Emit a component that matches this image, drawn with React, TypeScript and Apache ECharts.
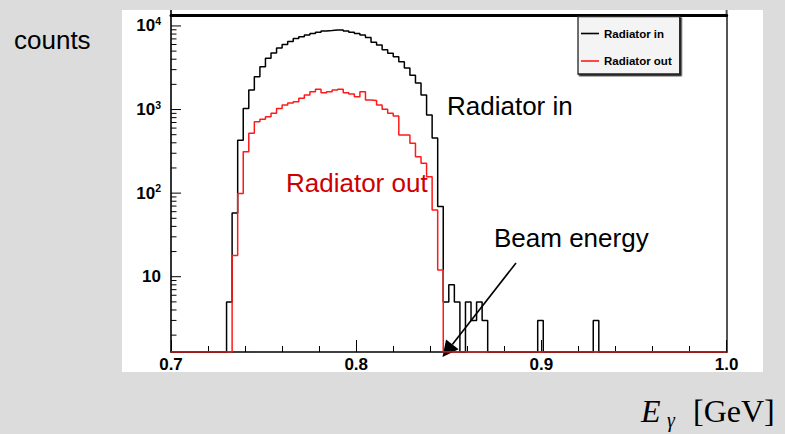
import React, { useEffect, useRef } from 'react';
import * as echarts from 'echarts';

// ---- axis ranges ----
const X_MIN = 0.7;
const X_MAX = 1.0;
const X_TICK_INTERVAL = 0.1;
const BIN_WIDTH = 0.003;
const Y_MIN = 1.257;
const Y_MAX = 13520;
const Y_DECADES = [1, 10, 100, 1000];
const Y_MINOR_MULTIPLIERS = [2, 3, 4, 5, 6, 7, 8, 9];

// ---- histogram contents: 100 bins of 0.003 from 0.7 to 1.0 ----
const radiatorIn = [
  0, 0, 0, 0, 0, 0, 0, 0, 0, 0,
  5, 58, 430, 1030, 1710, 2470, 3250, 4100, 4750, 5440,
  5990, 6500, 7060, 7430, 7780, 8100, 8400, 8690, 8800, 8930,
  8930, 8700, 8400, 8100, 7780, 7280, 6400, 5900, 5200, 4700,
  4290, 3730, 3140, 2570, 2080, 1490, 860, 455, 69, 5,
  8, 5, 0, 5, 3, 5, 3, 0, 0, 0,
  0, 0, 0, 0, 0, 0, 3, 0, 0, 0,
  0, 0, 0, 0, 0, 0, 3, 0, 0, 0,
  0, 0, 0, 0, 0, 0, 0, 0, 0, 0,
  0, 0, 0, 0, 0, 0, 0, 0, 0, 0,
];

const radiatorOut = [
  0, 0, 0, 0, 0, 0, 0, 0, 0, 0,
  0, 18, 99, 313, 519, 714, 763, 820, 900, 1030,
  1130, 1200, 1240, 1360, 1490, 1630, 1745, 1590, 1630, 1710,
  1745, 1590, 1530, 1420, 1630, 1300, 1280, 1130, 1005, 900,
  836, 495, 495, 394, 272, 227, 157, 63, 12, 0,
  0, 0, 0, 0, 0, 0, 0, 0, 0, 0,
  0, 0, 0, 0, 0, 0, 0, 0, 0, 0,
  0, 0, 0, 0, 0, 0, 0, 0, 0, 0,
  0, 0, 0, 0, 0, 0, 0, 0, 0, 0,
  0, 0, 0, 0, 0, 0, 0, 0, 0, 0,
];

const SERIES_NAMES = ['Radiator in', 'Radiator out'];

const SANS = 'Arial, "Liberation Sans", Helvetica, sans-serif';
const SERIF = '"Times New Roman", "Liberation Serif", Times, serif';

function toSteps(counts: number[]) {
  const pts: number[][] = counts.map((c, k) => [X_MIN + k * BIN_WIDTH, Math.max(c, Y_MIN)]);
  pts.push([X_MAX, Math.max(counts[counts.length - 1], Y_MIN)]);
  return pts;
}

function yTickData() {
  const out: number[][] = [];
  Y_DECADES.forEach((d) => {
    Y_MINOR_MULTIPLIERS.forEach((m) => out.push([X_MIN, d * m, 0]));
    out.push([X_MIN, d * 10, 1]);
  });
  return out.filter((p) => p[1] >= Y_MIN && p[1] <= Y_MAX);
}

function arrowGraphics(from: number[], to: number[], headLen: number, headHalf: number) {
  const dx = to[0] - from[0];
  const dy = to[1] - from[1];
  const len = Math.sqrt(dx * dx + dy * dy);
  const ux = dx / len;
  const uy = dy / len;
  const bx = to[0] - ux * headLen;
  const by = to[1] - uy * headLen;
  const nx = -uy;
  const ny = ux;
  return [
    {
      type: 'line',
      shape: { x1: from[0], y1: from[1], x2: bx, y2: by },
      style: { stroke: '#000', lineWidth: 1.6 },
    },
    {
      type: 'polygon',
      shape: {
        points: [
          [to[0], to[1]],
          [bx + nx * headHalf, by + ny * headHalf],
          [bx - nx * headHalf, by - ny * headHalf],
        ],
      },
      style: { fill: '#000' },
    },
  ];
}

function textEl(x: number, y: number, text: string, font: string, fill: string) {
  return {
    type: 'text',
    x,
    y,
    style: {
      text,
      font,
      fill,
      align: 'left',
      textAlign: 'left',
      verticalAlign: 'middle',
      textVerticalAlign: 'middle',
    },
  };
}

export default function App() {
  const ref = useRef<HTMLDivElement>(null);

  useEffect(() => {
    if (!ref.current) return;
    const chart = echarts.init(ref.current, undefined, { renderer: 'svg' });

    const option: any = {
      animation: false,
      backgroundColor: 'transparent',
      grid: { left: 171, right: 785 - 726.6, top: 15, bottom: 434 - 352, containLabel: false },
      legend: {
        data: SERIES_NAMES,
        orient: 'vertical',
        left: 578,
        top: 16.5,
        padding: [10, 8, 6, 3],
        itemGap: 13.5,
        itemWidth: 18,
        itemHeight: 1.6,
        icon: 'rect',
        backgroundColor: '#f4f4f4',
        borderColor: '#222',
        borderWidth: 1.3,
        shadowColor: 'rgba(0,0,0,0.85)',
        shadowOffsetX: 1.5,
        shadowOffsetY: 1.5,
        shadowBlur: 0,
        textStyle: { fontFamily: SANS, fontSize: 11.5, fontWeight: 'bold', color: '#000', lineHeight: 14 },
        selectedMode: false,
      },
      xAxis: [
        {
          type: 'value',
          min: X_MIN,
          max: X_MAX,
          interval: X_TICK_INTERVAL,
          position: 'bottom',
          axisLine: { show: true, onZero: false, lineStyle: { color: '#000', width: 1.5 } },
          axisTick: { show: true, inside: true, length: 12, lineStyle: { color: '#000', width: 1 } },
          minorTick: { show: true, splitNumber: 5, length: 6, lineStyle: { color: '#000', width: 1 } },
          splitLine: { show: false },
          axisLabel: {
            show: true,
            margin: 4,
            fontFamily: SANS,
            fontSize: 17,
            fontWeight: 'bold',
            color: '#000',
            formatter: (v: number) => v.toFixed(1),
          },
        },
        {
          type: 'value',
          min: X_MIN,
          max: X_MAX,
          position: 'top',
          axisLine: { show: true, onZero: false, lineStyle: { color: '#000', width: 3 } },
          axisTick: { show: false },
          axisLabel: { show: false },
          splitLine: { show: false },
        },
      ],
      yAxis: [
        {
          type: 'log',
          logBase: 10,
          min: Y_MIN,
          max: Y_MAX,
          position: 'left',
          axisLine: { show: true, onZero: false, lineStyle: { color: '#000', width: 1.6 } },
          axisTick: { show: false },
          splitLine: { show: false },
          axisLabel: {
            show: true,
            margin: 10,
            formatter: (v: number) => {
              const l = Math.log10(v);
              const e = Math.round(l);
              if (Math.abs(l - e) > 1e-6 || e < 1) return '';
              if (e === 1) return '{b|10}';
              return '{b|10}{s|' + e + '}';
            },
            rich: {
              b: { fontFamily: SANS, fontSize: 17, fontWeight: 'bold', color: '#000', lineHeight: 21 },
              s: { fontFamily: SANS, fontSize: 10.5, fontWeight: 'bold', color: '#000', verticalAlign: 'top', lineHeight: 12 },
            },
          },
        },
        {
          type: 'log',
          logBase: 10,
          min: Y_MIN,
          max: Y_MAX,
          position: 'right',
          axisLine: { show: true, onZero: false, lineStyle: { color: '#555', width: 2 } },
          axisTick: { show: false },
          axisLabel: { show: false },
          splitLine: { show: false },
        },
      ],
      series: [
        {
          name: SERIES_NAMES[0],
          type: 'line',
          step: 'end',
          data: toSteps(radiatorIn),
          xAxisIndex: 0,
          yAxisIndex: 0,
          showSymbol: false,
          symbol: 'none',
          color: '#000',
          lineStyle: { color: '#000', width: 1.5 },
          z: 3,
          silent: true,
        },
        {
          name: SERIES_NAMES[1],
          type: 'line',
          step: 'end',
          data: toSteps(radiatorOut),
          xAxisIndex: 0,
          yAxisIndex: 0,
          showSymbol: false,
          symbol: 'none',
          color: '#ff1a1a',
          lineStyle: { color: '#ff1a1a', width: 1.5 },
          z: 4,
          silent: true,
        },
        {
          name: 'yticks',
          type: 'custom',
          xAxisIndex: 0,
          yAxisIndex: 0,
          data: yTickData(),
          encode: { x: 0, y: 1 },
          silent: true,
          z: 5,
          renderItem: (params: any, api: any) => {
            const p = api.coord([api.value(0), api.value(1)]);
            const len = api.value(2) ? 10 : 5.5;
            return {
              type: 'line',
              shape: { x1: p[0], y1: p[1], x2: p[0] + len, y2: p[1] },
              style: { stroke: '#000', lineWidth: 1 },
            };
          },
        },
      ],
      graphic: [
        { type: 'line', shape: { x1: 171, y1: 10, x2: 171, y2: 15 }, style: { stroke: '#000', lineWidth: 1.6 } },
        { type: 'line', shape: { x1: 726.6, y1: 10, x2: 726.6, y2: 15 }, style: { stroke: '#555', lineWidth: 2 } },
        textEl(14, 40, 'counts', '26px ' + SANS, '#000'),
        textEl(447, 106, 'Radiator in', '26px ' + SANS, '#000'),
        textEl(286, 182.6, 'Radiator out', '26px ' + SANS, '#cc0000'),
        textEl(494, 238, 'Beam energy', '26px ' + SANS, '#000'),
        ...arrowGraphics([516, 263], [442.5, 357], 16, 8),
        textEl(641, 410.9, 'E', 'italic 32px ' + SERIF, '#000'),
        textEl(667, 419.8, 'γ', 'italic 20px ' + SERIF, '#000'),
        textEl(693, 410.9, '[GeV]', '32px ' + SERIF, '#000'),
      ],
    };

    chart.setOption(option);
    return () => chart.dispose();
  }, []);

  return (
    <div style={{ position: 'fixed', left: 0, top: 0, width: 785, height: 434, background: '#dcdcdc', overflow: 'hidden' }}>
      <div style={{ position: 'absolute', left: 122, top: 10, width: 641, height: 362, background: '#fff' }} />
      <div ref={ref} style={{ position: 'absolute', left: 0, top: 0, width: 785, height: 434 }} />
    </div>
  );
}
